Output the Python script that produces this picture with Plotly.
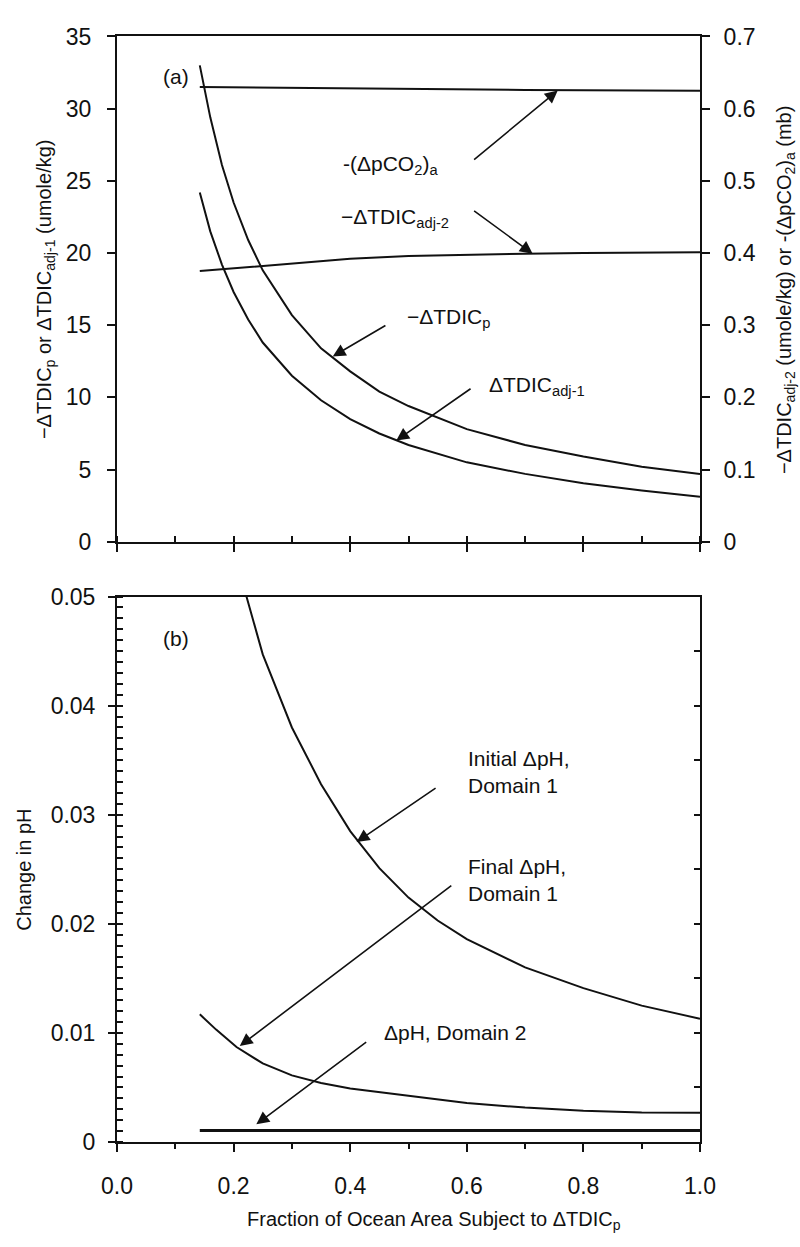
import plotly.graph_objects as go

# ---- Panel (a): TDIC changes vs. fraction of ocean area ----
x_curve_a = [0.142, 0.16, 0.18, 0.20, 0.225, 0.25, 0.30, 0.35, 0.40, 0.45, 0.50, 0.60, 0.70, 0.80, 0.90, 1.00]
neg_dtdic_p = [33.0, 29.4, 26.1, 23.5, 20.9, 18.8, 15.7, 13.4, 11.8, 10.4, 9.4, 7.8, 6.7, 5.9, 5.2, 4.7]
dtdic_adj1 = [24.2, 21.5, 19.2, 17.3, 15.4, 13.8, 11.5, 9.8, 8.5, 7.5, 6.7, 5.5, 4.7, 4.05, 3.55, 3.12]

x_flat_a = [0.142, 0.20, 0.30, 0.40, 0.50, 0.60, 0.70, 0.80, 0.90, 1.00]
neg_dtdic_adj2 = [0.375, 0.379, 0.386, 0.392, 0.396, 0.398, 0.399, 0.400, 0.401, 0.401]
x_pco2 = [0.142, 0.30, 0.50, 0.70, 1.00]
neg_dpco2 = [0.630, 0.629, 0.627, 0.626, 0.625]

# ---- Panel (b): change in pH ----
x_initial = [0.21, 0.25, 0.30, 0.35, 0.40, 0.45, 0.50, 0.55, 0.60, 0.70, 0.80, 0.90, 1.00]
initial_dph_d1 = [0.0523, 0.0447, 0.0380, 0.0328, 0.0285, 0.0251, 0.0224, 0.0203, 0.0186, 0.0160, 0.0141, 0.0125, 0.0113]
x_final = [0.142, 0.17, 0.205, 0.25, 0.30, 0.35, 0.40, 0.50, 0.60, 0.70, 0.80, 0.90, 1.00]
final_dph_d1 = [0.0117, 0.0103, 0.0087, 0.0072, 0.0061, 0.0054, 0.0049, 0.0042, 0.00357, 0.00315, 0.00285, 0.0027, 0.00267]
x_domain2 = [0.142, 1.00]
dph_d2 = [0.00105, 0.00105]

x_ticks = [0.0, 0.2, 0.4, 0.6, 0.8, 1.0]

FONT = "Arial, Liberation Sans, Helvetica, sans-serif"
BLACK = "#111111"

fig = go.Figure()
line = dict(color=BLACK, width=2)

fig.add_trace(go.Scatter(x=x_curve_a, y=neg_dtdic_p, mode="lines", line=line, xaxis="x", yaxis="y"))
fig.add_trace(go.Scatter(x=x_curve_a, y=dtdic_adj1, mode="lines", line=line, xaxis="x", yaxis="y"))
fig.add_trace(go.Scatter(x=x_flat_a, y=neg_dtdic_adj2, mode="lines", line=line, xaxis="x", yaxis="y2"))
fig.add_trace(go.Scatter(x=x_pco2, y=neg_dpco2, mode="lines", line=line, xaxis="x", yaxis="y2"))

fig.add_trace(go.Scatter(x=x_initial, y=initial_dph_d1, mode="lines", line=line, xaxis="x2", yaxis="y3"))
fig.add_trace(go.Scatter(x=x_final, y=final_dph_d1, mode="lines", line=line, xaxis="x2", yaxis="y3"))
fig.add_trace(go.Scatter(x=x_domain2, y=dph_d2, mode="lines", line=dict(color=BLACK, width=3),
                         xaxis="x2", yaxis="y4"))

tick_font = dict(family=FONT, size=23, color=BLACK)
axis_common = dict(showline=True, linecolor=BLACK, linewidth=2, showgrid=False, zeroline=False,
                   tickcolor=BLACK, tickwidth=2, tickfont=tick_font)

dom_a = [1 - 540 / 1247, 1 - 24 / 1247]
dom_b = [1 - 1153 / 1247, 1 - 596 / 1247]

fig.update_layout(
    width=800, height=1247,
    margin=dict(l=117, r=100, t=0, b=0),
    paper_bgcolor="white", plot_bgcolor="white",
    showlegend=False,
    font=dict(family=FONT, color=BLACK),
    xaxis=dict(**axis_common, domain=[0, 1], range=[0, 1], anchor="y", mirror=True,
               tickvals=x_ticks, showticklabels=False, ticks="outside", ticklen=8,
               minor=dict(dtick=0.1, ticks="inside", ticklen=6, tickcolor=BLACK, tickwidth=1.5)),
    yaxis=dict(**axis_common, domain=dom_a, range=[0, 35], dtick=5, ticks="outside", ticklen=8,
               anchor="x", mirror=True, ticklabelstandoff=11),
    yaxis2=dict(**axis_common, range=[0, 0.7], dtick=0.1, ticks="outside", ticklen=8,
                overlaying="y", side="right", anchor="x", ticklabelstandoff=9),
    xaxis2=dict(**axis_common, domain=[0, 1], range=[0, 1], anchor="y3", mirror=True,
                tickvals=x_ticks, tickformat=".1f", ticks="outside", ticklen=8,
                ticklabelstandoff=14,
                minor=dict(dtick=0.1, ticks="outside", ticklen=5, tickcolor=BLACK, tickwidth=1.5)),
    yaxis3=dict(**axis_common, domain=dom_b, range=[0, 0.05], dtick=0.01, ticks="outside", ticklen=7,
                anchor="x2", ticklabelstandoff=8,
                minor=dict(dtick=0.001, ticks="inside", ticklen=6, tickcolor=BLACK, tickwidth=1.5)),
    yaxis4=dict(**axis_common, range=[0, 0.05], dtick=0.005, ticks="inside", ticklen=6,
                showticklabels=False, overlaying="y3", side="right", anchor="x2"),
)

ann_font = dict(family=FONT, size=21, color=BLACK)
title_font = dict(family=FONT, size=20, color=BLACK)
annotations = []


def label(text, x, y, xref, yref, xanchor="center", align="center"):
    annotations.append(dict(text=text, x=x, y=y, xref=xref, yref=yref, showarrow=False,
                            xanchor=xanchor, yanchor="middle", align=align, font=ann_font))


def arrow(x, y, ax, ay, xref, yref):
    annotations.append(dict(text="", x=x, y=y, ax=ax, ay=ay, xref=xref, yref=yref,
                            axref=xref, ayref=yref, showarrow=True, arrowhead=2,
                            arrowsize=1.6, arrowwidth=1.6, arrowcolor=BLACK, standoff=0))


# panel (a) labels and pointers
label("(a)", 0.102, 32.2, "x", "y")
label("-(ΔpCO<sub>2</sub>)<sub>a</sub>", 0.469, 26.1, "x", "y")
arrow(0.756, 31.26, 0.610, 26.39, "x", "y")
label("−ΔTDIC<sub>adj-2</sub>", 0.476, 22.4, "x", "y")
arrow(0.713, 19.95, 0.610, 23.0, "x", "y")
label("−ΔTDIC<sub>p</sub>", 0.569, 15.5, "x", "y")
arrow(0.370, 12.84, 0.463, 15.04, "x", "y")
label("ΔTDIC<sub>adj-1</sub>", 0.721, 10.8, "x", "y")
arrow(0.479, 7.01, 0.609, 10.67, "x", "y")

# panel (b) labels and pointers
label("(b)", 0.102, 0.0462, "x2", "y3")
label("Initial ΔpH,<br>Domain 1", 0.599, 0.0339, "x2", "y3", xanchor="left", align="left")
arrow(0.411, 0.0275, 0.549, 0.03254, "x2", "y3")
label("Final ΔpH,<br>Domain 1", 0.599, 0.02406, "x2", "y3", xanchor="left", align="left")
arrow(0.2106, 0.0088, 0.576, 0.0236, "x2", "y3")
label("ΔpH, Domain 2", 0.455, 0.01005, "x2", "y3", xanchor="left", align="left")
arrow(0.239, 0.00162, 0.430, 0.00925, "x2", "y3")

# axis titles
annotations.append(dict(text="−ΔTDIC<sub>p</sub> or ΔTDIC<sub>adj-1</sub> (umole/kg)",
                        x=(45 - 117) / 583, y=1 - 282 / 1247, xref="paper", yref="paper",
                        textangle=-90, showarrow=False, xanchor="center", yanchor="middle",
                        font=title_font))
annotations.append(dict(text="−ΔTDIC<sub>adj-2</sub> (umole/kg) or -(ΔpCO<sub>2</sub>)<sub>a</sub> (mb)",
                        x=(785 - 117) / 583, y=1 - 283 / 1247, xref="paper", yref="paper",
                        textangle=-90, showarrow=False, xanchor="center", yanchor="middle",
                        font=title_font))
annotations.append(dict(text="Change in pH",
                        x=(24 - 117) / 583, y=1 - 875 / 1247, xref="paper", yref="paper",
                        textangle=-90, showarrow=False, xanchor="center", yanchor="middle",
                        font=title_font))
annotations.append(dict(text="Fraction of Ocean Area Subject to ΔTDIC<sub>p</sub>",
                        x=(434 - 117) / 583, y=1 - 1233 / 1247, xref="paper", yref="paper",
                        showarrow=False, xanchor="center", yanchor="middle", font=title_font))

fig.update_layout(annotations=annotations)

fig.write_html("out.html")
